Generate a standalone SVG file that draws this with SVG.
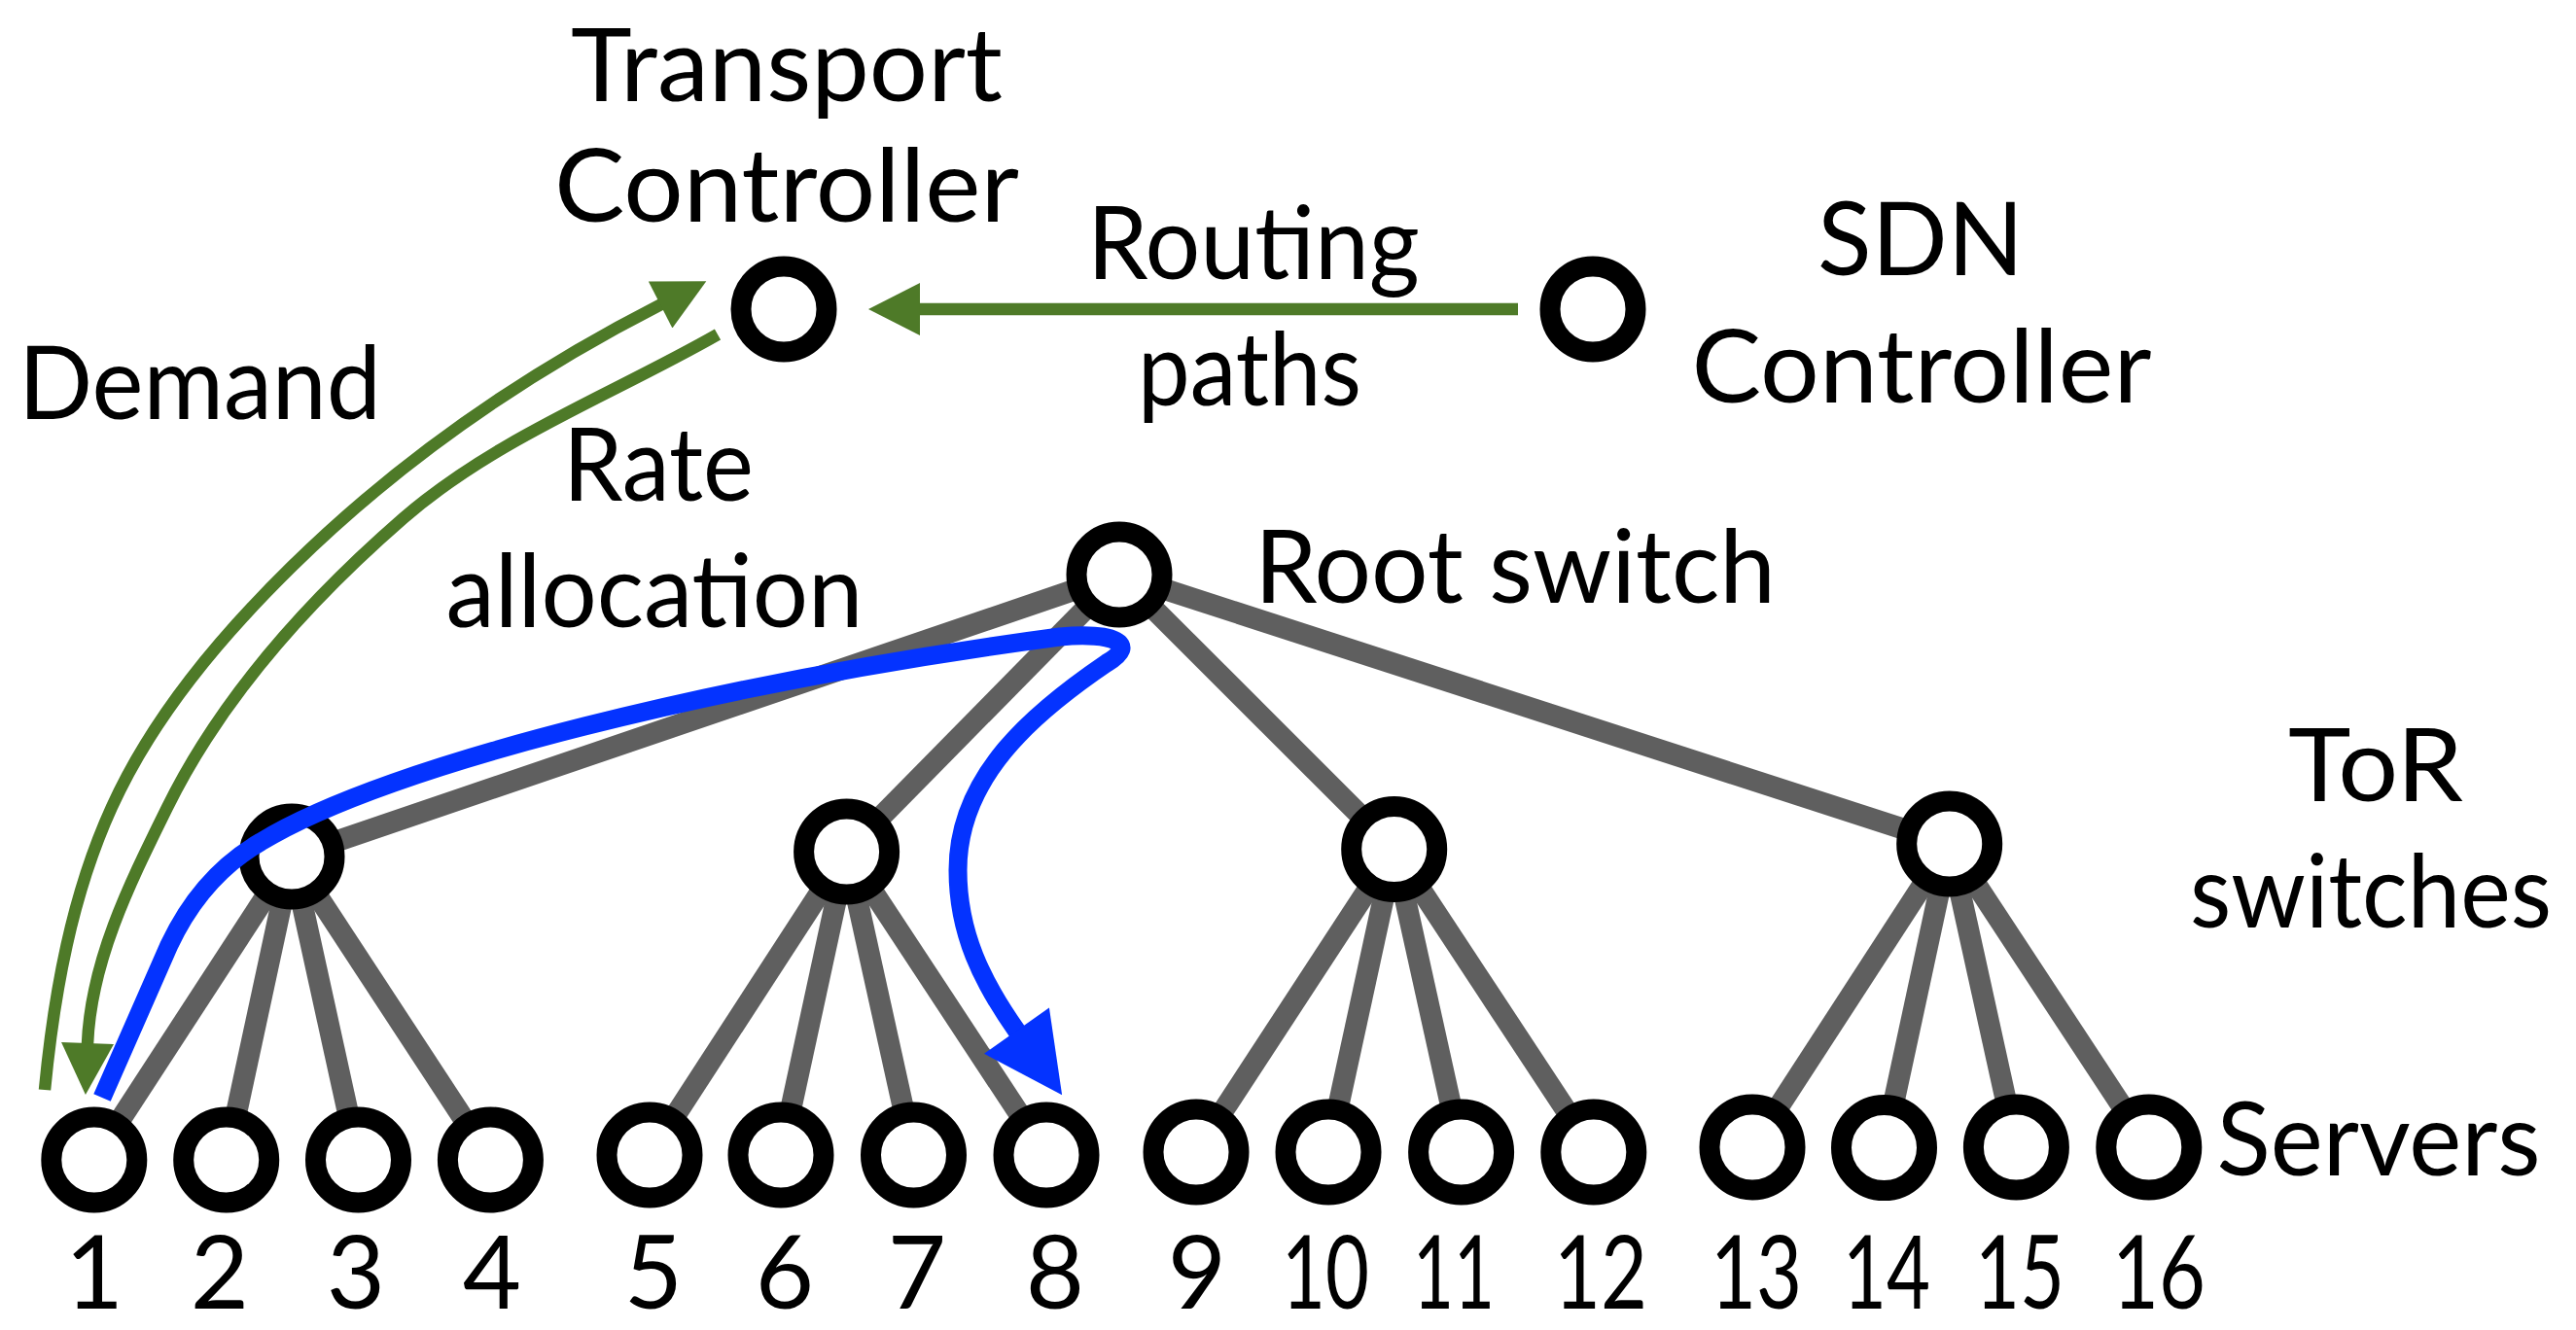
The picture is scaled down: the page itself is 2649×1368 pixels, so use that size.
<svg xmlns="http://www.w3.org/2000/svg" width="2649" height="1368" viewBox="0 0 2649 1368">
<style>
.lbl{font-family:Lato,"Noto Sans","Liberation Sans",sans-serif;font-size:105px;fill:#000;text-anchor:middle}
.num{font-family:Lato,"Noto Sans","Liberation Sans",sans-serif;font-size:104px;fill:#000;text-anchor:middle}
.node{fill:#fff;stroke:#000;stroke-width:21}
.link{stroke:#5f5f5f;stroke-width:22;fill:none}
.green{stroke:#4e7a28;stroke-width:12.5;fill:none}
.blue{stroke:#0433ff;stroke-width:19;fill:none}
</style>
<defs>
<marker id="ahG" markerUnits="userSpaceOnUse" markerWidth="54" markerHeight="54" viewBox="0 0 53 54" refX="1" refY="27" orient="auto"><path d="M0,0 L53,27 L0,54 z" fill="#4e7a28"/></marker>
<marker id="ahB" markerUnits="userSpaceOnUse" markerWidth="82" markerHeight="82" viewBox="0 0 81 82" refX="1" refY="41" orient="auto"><path d="M0,0 L81,41 L0,82 z" fill="#0433ff"/></marker>
</defs>
<rect width="2649" height="1368" fill="#fff"/>

<g id="links">
<line class="link" x1="1151" y1="591" x2="300" y2="881"/>
<line class="link" x1="1151" y1="591" x2="870.6" y2="876"/>
<line class="link" x1="1151" y1="591" x2="1433.7" y2="873.5"/>
<line class="link" x1="1151" y1="591" x2="2004.7" y2="868"/>
<line class="link" x1="300" y1="881" x2="96.8" y2="1193"/>
<line class="link" x1="300" y1="881" x2="232.7" y2="1193"/>
<line class="link" x1="300" y1="881" x2="368.5" y2="1193"/>
<line class="link" x1="300" y1="881" x2="504.4" y2="1193"/>
<line class="link" x1="870.6" y1="876" x2="668" y2="1188"/>
<line class="link" x1="870.6" y1="876" x2="803" y2="1188"/>
<line class="link" x1="870.6" y1="876" x2="939.5" y2="1188"/>
<line class="link" x1="870.6" y1="876" x2="1076" y2="1188"/>
<line class="link" x1="1433.7" y1="873.5" x2="1230" y2="1185"/>
<line class="link" x1="1433.7" y1="873.5" x2="1366" y2="1185"/>
<line class="link" x1="1433.7" y1="873.5" x2="1502.6" y2="1185"/>
<line class="link" x1="1433.7" y1="873.5" x2="1638.8" y2="1185"/>
<line class="link" x1="2004.7" y1="868" x2="1802" y2="1180"/>
<line class="link" x1="2004.7" y1="868" x2="1937.5" y2="1180"/>
<line class="link" x1="2004.7" y1="868" x2="2073.4" y2="1180"/>
<line class="link" x1="2004.7" y1="868" x2="2209.8" y2="1180"/>
</g>

<g id="transport-controller">
<circle class="node" cx="806" cy="318" r="44"/>
<text class="lbl" x="809" y="104" textLength="444" lengthAdjust="spacingAndGlyphs">Transport</text>
<text class="lbl" x="809" y="228" textLength="478" lengthAdjust="spacingAndGlyphs">Controller</text>
</g>
<g id="sdn-controller">
<circle class="node" cx="1638" cy="318" r="44"/>
<text class="lbl" x="1975" y="283" textLength="212" lengthAdjust="spacingAndGlyphs">SDN</text>
<text class="lbl" x="1976" y="414" textLength="473" lengthAdjust="spacingAndGlyphs">Controller</text>
</g>
<g id="root-switch">
<circle class="node" cx="1151" cy="591" r="44"/>
<text class="lbl" x="1558" y="620" textLength="536" lengthAdjust="spacingAndGlyphs">Root switch</text>
</g>
<g id="tor1"><circle class="node" cx="300" cy="881" r="44"/></g>
<g id="tor2"><circle class="node" cx="870.6" cy="876" r="44"/></g>
<g id="tor3"><circle class="node" cx="1433.7" cy="873.5" r="44"/></g>
<g id="tor4"><circle class="node" cx="2004.7" cy="868" r="44"/></g>
<g id="tor-label">
<text class="lbl" x="2443" y="824" textLength="180" lengthAdjust="spacingAndGlyphs">ToR</text>
<text class="lbl" x="2438" y="954" textLength="372" lengthAdjust="spacingAndGlyphs">switches</text>
</g>

<g id="server1"><circle class="node" cx="96.8" cy="1193" r="44"/><text class="num" x="97" y="1346">1</text></g>
<g id="server2"><circle class="node" cx="232.7" cy="1193" r="44"/><text class="num" x="226" y="1346">2</text></g>
<g id="server3"><circle class="node" cx="368.5" cy="1193" r="44"/><text class="num" x="366" y="1346">3</text></g>
<g id="server4"><circle class="node" cx="504.4" cy="1193" r="44"/><text class="num" x="506" y="1346">4</text></g>
<g id="server5"><circle class="node" cx="668" cy="1188" r="44"/><text class="num" x="672" y="1346">5</text></g>
<g id="server6"><circle class="node" cx="803" cy="1188" r="44"/><text class="num" x="807" y="1346">6</text></g>
<g id="server7"><circle class="node" cx="939.5" cy="1188" r="44"/><text class="num" x="943" y="1346">7</text></g>
<g id="server8"><circle class="node" cx="1076" cy="1188" r="44"/><text class="num" x="1085" y="1346">8</text></g>
<g id="server9"><circle class="node" cx="1230" cy="1185" r="44"/><text class="num" x="1231" y="1346">9</text></g>
<g id="server10"><circle class="node" cx="1366" cy="1185" r="44"/><text class="num" x="1363" y="1346" textLength="90" lengthAdjust="spacingAndGlyphs">10</text></g>
<g id="server11"><circle class="node" cx="1502.6" cy="1185" r="44"/><text class="num" x="1495" y="1346" textLength="84" lengthAdjust="spacingAndGlyphs">11</text></g>
<g id="server12"><circle class="node" cx="1638.8" cy="1185" r="44"/><text class="num" x="1646" y="1346" textLength="96" lengthAdjust="spacingAndGlyphs">12</text></g>
<g id="server13"><circle class="node" cx="1802" cy="1180" r="44"/><text class="num" x="1806" y="1346" textLength="94" lengthAdjust="spacingAndGlyphs">13</text></g>
<g id="server14"><circle class="node" cx="1937.5" cy="1180.6" r="44"/><text class="num" x="1940" y="1346" textLength="90" lengthAdjust="spacingAndGlyphs">14</text></g>
<g id="server15"><circle class="node" cx="2073.4" cy="1180" r="44"/><text class="num" x="2077" y="1346" textLength="92" lengthAdjust="spacingAndGlyphs">15</text></g>
<g id="server16"><circle class="node" cx="2209.8" cy="1180" r="44"/><text class="num" x="2220" y="1346" textLength="96" lengthAdjust="spacingAndGlyphs">16</text></g>
<g id="servers-label">
<text class="lbl" x="2446" y="1209" textLength="333" lengthAdjust="spacingAndGlyphs">Servers</text>
</g>

<g id="flows">
<path class="green" d="M1561 318 L945 318" marker-end="url(#ahG)"/>
<path class="green" d="M46 1121 C55.5 1022 73.6 921 114.8 830.5 C157.4 736.8 226.6 655 300 582.8 C410.5 474.1 541.9 383.5 680 313" marker-end="url(#ahG)"/>
<path class="green" d="M738 344 C629.5 406 509.2 451 414.8 533 C318.2 617 228.6 715.7 172 830.5 C134 907.6 93.4 988 90 1074" marker-end="url(#ahG)"/>
<path class="blue" d="M105 1129 L174 972 C190 938 218 895 268 866 C400 785 750 700 1090 655 C1145 650 1172 662 1138 682 C1060 735 985 800 985 895 C985 960 1010 1010 1046 1061" marker-end="url(#ahB)"/>
</g>

<g id="flow-labels">
<text class="lbl" x="1289" y="287" textLength="342" lengthAdjust="spacingAndGlyphs">Routing</text>
<text class="lbl" x="1285" y="417" textLength="230" lengthAdjust="spacingAndGlyphs">paths</text>
<text class="lbl" x="205.5" y="431" textLength="373" lengthAdjust="spacingAndGlyphs">Demand</text>
<text class="lbl" x="677" y="515" textLength="196" lengthAdjust="spacingAndGlyphs">Rate</text>
<text class="lbl" x="673" y="645" textLength="429" lengthAdjust="spacingAndGlyphs">allocation</text>
</g>
</svg>
